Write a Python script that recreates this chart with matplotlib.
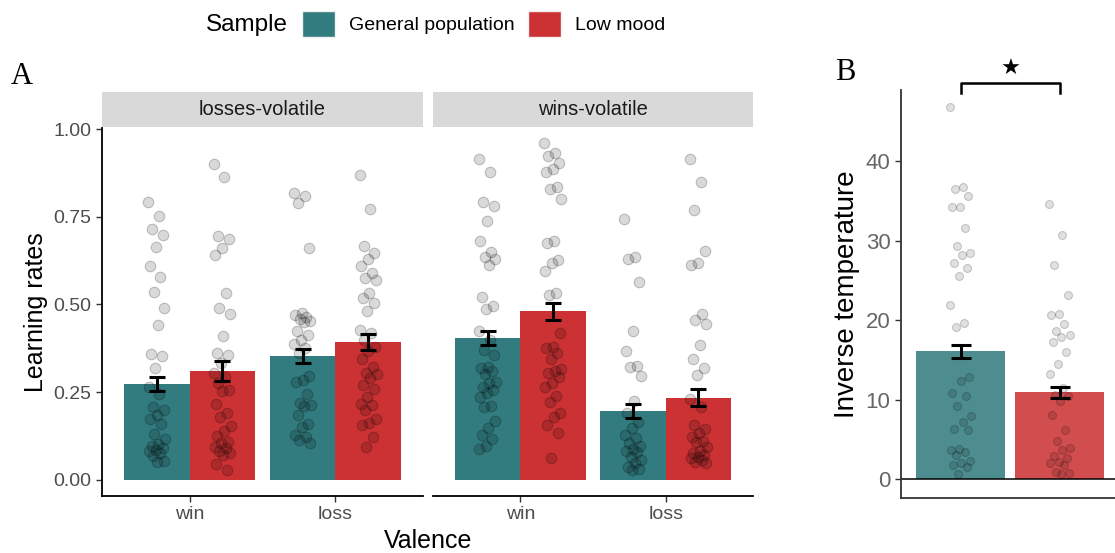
import numpy as np
import matplotlib
matplotlib.use("Agg")
import matplotlib.pyplot as plt
from matplotlib.patches import Patch

plt.rcParams['font.family'] = ['Liberation Sans', 'DejaVu Sans']

teal = '#327c80'
red = '#cc3234'
valence = ['win', 'loss']
facets = ['losses-volatile', 'wins-volatile']

# bar heights (mean) and standard errors, order: win, loss
lv_mean_gp = [0.273, 0.353]
lv_mean_lm = [0.310, 0.393]
lv_se_gp = [0.020, 0.019]
lv_se_lm = [0.028, 0.023]
wv_mean_gp = [0.405, 0.197]
wv_mean_lm = [0.481, 0.234]
wv_se_gp = [0.020, 0.020]
wv_se_lm = [0.024, 0.024]

# individual learning rates, losses-volatile
lv_win_gp = [0.793, 0.753, 0.714, 0.699, 0.663, 0.611, 0.579, 0.536, 0.49, 0.442,
             0.36, 0.353, 0.319, 0.266, 0.245, 0.207, 0.198, 0.185, 0.174, 0.160,
             0.131, 0.116, 0.103, 0.097, 0.09, 0.085, 0.081, 0.076, 0.068, 0.055, 0.052]
lv_win_lm = [0.900, 0.864, 0.695, 0.688, 0.662, 0.641, 0.532, 0.489, 0.473, 0.410,
             0.363, 0.356, 0.332, 0.304, 0.294, 0.275, 0.255, 0.253, 0.217, 0.192,
             0.180, 0.154, 0.140, 0.125, 0.109, 0.104, 0.095, 0.090, 0.081, 0.076,
             0.071, 0.046, 0.028]
lv_loss_gp = [0.817, 0.809, 0.788, 0.662, 0.477, 0.470, 0.465, 0.458, 0.454, 0.451,
              0.425, 0.413, 0.399, 0.387, 0.375, 0.361, 0.296, 0.285, 0.280, 0.245,
              0.218, 0.214, 0.211, 0.185, 0.160, 0.152, 0.128, 0.123, 0.114, 0.106]
lv_loss_lm = [0.869, 0.771, 0.667, 0.646, 0.629, 0.610, 0.591, 0.576, 0.570, 0.534,
              0.518, 0.503, 0.480, 0.427, 0.418, 0.399, 0.380, 0.366, 0.344, 0.323,
              0.304, 0.302, 0.290, 0.269, 0.258, 0.237, 0.217, 0.214, 0.199, 0.173,
              0.163, 0.157, 0.122, 0.093]

# individual learning rates, wins-volatile
wv_win_gp = [0.914, 0.878, 0.793, 0.781, 0.739, 0.681, 0.649, 0.634, 0.629, 0.612,
             0.521, 0.496, 0.486, 0.425, 0.399, 0.370, 0.356, 0.323, 0.318, 0.309,
             0.302, 0.280, 0.275, 0.266, 0.255, 0.249, 0.236, 0.211, 0.209, 0.169,
             0.147, 0.128, 0.116, 0.097, 0.087]
wv_win_lm = [0.959, 0.931, 0.923, 0.904, 0.885, 0.878, 0.836, 0.829, 0.802, 0.681,
             0.676, 0.627, 0.619, 0.594, 0.532, 0.527, 0.418, 0.380, 0.375, 0.361,
             0.344, 0.315, 0.309, 0.304, 0.292, 0.275, 0.266, 0.239, 0.223, 0.190,
             0.180, 0.157, 0.135, 0.062]
wv_loss_gp = [0.744, 0.634, 0.629, 0.563, 0.423, 0.368, 0.325, 0.321, 0.296, 0.225,
              0.190, 0.166, 0.147, 0.128, 0.119, 0.104, 0.097, 0.087, 0.081, 0.078,
              0.065, 0.057, 0.047, 0.038, 0.030, 0.028]
wv_loss_lm = [0.916, 0.848, 0.769, 0.652, 0.619, 0.612, 0.473, 0.456, 0.444, 0.385,
              0.344, 0.318, 0.299, 0.230, 0.207, 0.157, 0.144, 0.135, 0.123, 0.112,
              0.109, 0.095, 0.081, 0.076, 0.071, 0.066, 0.062, 0.057, 0.052, 0.047]

# inverse temperature (panel B)
temp_mean = [16.08, 10.9]
temp_se = [0.86, 0.74]
temp_gp = [46.8, 36.8, 36.5, 35.7, 34.3, 34.3, 31.6, 29.4, 28.5, 28.2, 27.2, 26.6,
           25.6, 21.9, 19.7, 19.2, 12.9, 12.3, 10.8, 10.5, 9.2, 8.0, 7.2, 6.3, 6.2,
           3.8, 3.7, 3.4, 3.0, 2.3, 2.0, 1.8, 1.5, 0.6]
temp_lm = [34.7, 30.7, 26.9, 23.2, 20.8, 20.7, 19.5, 18.6, 18.2, 17.9, 17.3, 16.0,
           14.5, 13.2, 11.5, 10.6, 10.4, 9.8, 8.1, 6.2, 4.8, 3.9, 3.7, 2.9, 2.7, 2.1,
           2.0, 1.8, 0.9, 0.7, 0.6]


def jitter(n, half):
    # deterministic spread of points around the bar centre
    return ((np.arange(n) * 0.618) % 1 - 0.5) * 2 * half


def dots(ax, xc, vals, half, s, a=0.15):
    vals = np.asarray(vals)
    ax.scatter(xc + jitter(len(vals), half), vals, s=s, facecolor=(0, 0, 0, a),
               edgecolor=(0, 0, 0, a + 0.06), linewidth=0.8, zorder=3)


W, H = 1115, 553
fig = plt.figure(figsize=(W / 100, H / 100), dpi=100)


def box(x0, y0, x1, y1):
    return [x0 / W, 1 - y1 / H, (x1 - x0) / W, (y1 - y0) / H]


panel_data = [
    (lv_mean_gp, lv_mean_lm, lv_se_gp, lv_se_lm, [lv_win_gp, lv_loss_gp], [lv_win_lm, lv_loss_lm]),
    (wv_mean_gp, wv_mean_lm, wv_se_gp, wv_se_lm, [wv_win_gp, wv_loss_gp], [wv_win_lm, wv_loss_lm]),
]
panel_x = [(102, 423), (433, 753)]

for k, (mgp, mlm, sgp, slm, pgp, plm) in enumerate(panel_data):
    x0, x1 = panel_x[k]
    ax = fig.add_axes(box(x0, 128, x1, 496))
    x = np.arange(1, 3)
    ax.bar(x - 0.225, mgp, width=0.45, color=teal, zorder=1)
    ax.bar(x + 0.225, mlm, width=0.45, color=red, zorder=1)
    for i in range(2):
        dots(ax, x[i] - 0.225, pgp[i], 0.06, 58)
        dots(ax, x[i] + 0.225, plm[i], 0.06, 58)
    ax.errorbar(x - 0.225, mgp, yerr=sgp, fmt='none', ecolor='black', elinewidth=2.2,
                capsize=5.5, capthick=2.2, zorder=4)
    ax.errorbar(x + 0.225, mlm, yerr=slm, fmt='none', ecolor='black', elinewidth=2.2,
                capsize=5.5, capthick=2.2, zorder=4)
    ax.set_xlim(0.4, 2.6)
    ax.set_ylim(-0.046, 1.003)
    ax.set_xticks(x)
    ax.set_xticklabels(valence)
    ax.spines['top'].set_visible(False)
    ax.spines['right'].set_visible(False)
    for sp in ax.spines.values():
        sp.set_linewidth(1.3)
    ax.tick_params(colors='#333333', labelcolor='#4d4d4d', labelsize=14, length=4, width=1)
    if k == 0:
        ax.set_yticks([0, 0.25, 0.5, 0.75, 1.0])
        ax.set_yticklabels(['0.00', '0.25', '0.50', '0.75', '1.00'])
        ax.set_ylabel('Learning rates', fontsize=18, labelpad=4)
    else:
        ax.spines['left'].set_visible(False)
        ax.set_yticks([])
    # facet strip
    st = fig.add_axes(box(x0, 92, x1, 127))
    st.set_facecolor('#d9d9d9')
    st.set_xticks([])
    st.set_yticks([])
    for sp in st.spines.values():
        sp.set_visible(False)
    st.text(0.5, 0.5, facets[k], ha='center', va='center', fontsize=14.5, color='#1a1a1a',
            transform=st.transAxes)

fig.text(428 / W, 1 - 541 / H, 'Valence', ha='center', va='center', fontsize=18)

# panel B
axb = fig.add_axes(box(901, 90, 1115, 498))
xb = np.arange(1, 3)
axb.bar(xb, temp_mean, width=0.9, color=[teal, red], alpha=0.87, zorder=1)
dots(axb, xb[0], temp_gp, 0.11, 33, a=0.12)
dots(axb, xb[1], temp_lm, 0.11, 33, a=0.12)
axb.errorbar(xb, temp_mean, yerr=temp_se, fmt='none', ecolor='black', elinewidth=2.2,
             capsize=7, capthick=2.2, zorder=4)
axb.axhline(0, color='black', lw=1.1, zorder=2)
axb.set_xlim(0.4, 2.556)
axb.set_ylim(-2.39, 49.0)
axb.set_xticks([])
axb.set_yticks([0, 10, 20, 30, 40])
axb.spines['top'].set_visible(False)
axb.spines['right'].set_visible(False)
for sp in ['left', 'bottom']:
    axb.spines[sp].set_color('#333333')
    axb.spines[sp].set_linewidth(1.3)
axb.tick_params(colors='#333333', labelcolor='#666666', labelsize=16, length=4, width=1)
axb.set_ylabel('Inverse temperature', fontsize=20, labelpad=4)
# significance bracket
axb.plot([xb[0], xb[0], xb[1], xb[1]], [48.6, 49.9, 49.9, 48.6], color='black', lw=1.8,
         clip_on=False)
axb.text(xb.mean(), 51.6, '\u2605', ha='center', va='center', fontsize=16, clip_on=False,
         family=['DejaVu Sans'])

# panel letters
fig.text(22 / W, 1 - 76 / H, 'A', ha='center', va='center', fontsize=22, family='Liberation Serif')
fig.text(845 / W, 1 - 73 / H, 'B', ha='center', va='center', fontsize=22, family='Liberation Serif')

# legend
fig.text(206 / W, 1 - 25 / H, 'Sample', ha='left', va='center', fontsize=17.5)
handles = [Patch(facecolor=teal, edgecolor='#f0f0f0'), Patch(facecolor=red, edgecolor='#f0f0f0')]
fig.legend(handles, ['General population', 'Low mood'], ncol=2, loc='center left',
           bbox_to_anchor=(302 / W, 1 - 24 / H), frameon=False, fontsize=14,
           handlelength=1.7, handleheight=1.65, handletextpad=0.7, columnspacing=0.7,
           borderpad=0, borderaxespad=0)

fig.savefig('out.png', dpi=100)
